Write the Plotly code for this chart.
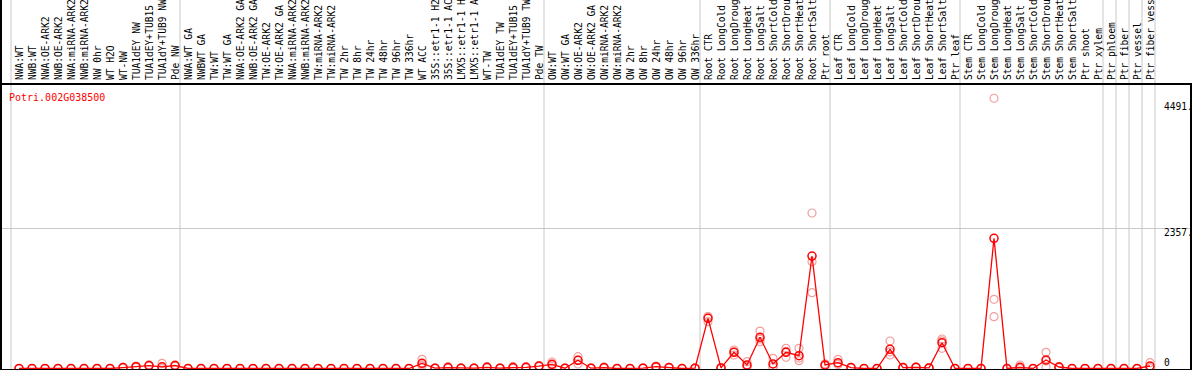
import plotly.graph_objects as go

categories = [
    "NWA:WT", "NWB:WT", "NWA:OE-ARK2", "NWB:OE-ARK2", "NWA:miRNA-ARK2", "NWB:miRNA-ARK2",
    "NW 0hr", "WT H2O", "WT-NW", "TUA1dEY NW", "TUA1dEY+TUB15", "TUA1dY+TUB9 NW", "Pde NW",
    "NWA:WT GA", "NWBWT GA", "TW:WT", "TW:WT GA", "NWA:OE-ARK2 GA", "NWB:OE-ARK2 GA",
    "TW:OE-ARK2", "TW:OE-ARK2 GA", "NWA:miRNA-ARK2", "NWB:miRNA-ARK2", "TW:miRNA-ARK2",
    "TW:miRNA-ARK2", "TW 2hr", "TW 8hr", "TW 24hr", "TW 48hr", "TW 96hr", "TW 336hr",
    "WT ACC", "35S::etr1-1 H2", "35S::etr1-1 AC", "LMX5::etr1-1 H", "LMX5::etr1-1 A",
    "WT-TW", "TUA1dEY TW", "TUA1dEY+TUB15", "TUA1dY+TUB9 TW", "Pde TW",
    "OW:WT", "OW:WT GA", "OW:OE-ARK2", "OW:OE-ARK2 GA", "OW:miRNA-ARK2", "OW:miRNA-ARK2",
    "OW 2hr", "OW 8hr", "OW 24hr", "OW 48hr", "OW 96hr", "OW 336hr",
    "Root CTR", "Root LongCold", "Root LongDroug", "Root LongHeat", "Root LongSalt",
    "Root ShortCold", "Root ShortDrou", "Root ShortHeat", "Root ShortSalt", "Ptr root",
    "Leaf CTR", "Leaf LongCold", "Leaf LongDroug", "Leaf LongHeat", "Leaf LongSalt",
    "Leaf ShortCold", "Leaf ShortDrou", "Leaf ShortHeat", "Leaf ShortSalt", "Ptr leaf",
    "Stem CTR", "Stem LongCold", "Stem LongDroug", "Stem LongHeat", "Stem LongSalt",
    "Stem ShortCold", "Stem ShortDrou", "Stem ShortHeat", "Stem ShortSalt", "Ptr shoot",
    "Ptr xylem", "Ptr phloem", "Ptr fiber", "Ptr vessel", "Ptr fiber vess",
]

mean_vals = [
    0, 0, 0, 0, 0, 0, 0, 0, 15, 30, 50, 29, 50,
    0, 0, 0, 0, 0, 0, 0, 0, 0, 0, 0, 0, 0, 0, 0, 0, 0, 0,
    87, 5, 15, 5, 5, 20, 5, 15, 20, 40,
    70, 5, 138, 5, 15, 0, 0, 5, 30, 15, 0, 5,
    844, 10, 272, 59, 525, 76, 272, 215, 1891, 59,
    98, 15, 0, 0, 323, 15, 20, 10, 434, 0,
    0, 0, 2189, 0, 20, 0, 143, 25, 0, 0, 0, 0, 0, 0, 42,
]

rep1 = [
    0, 0, 0, 0, 0, 0, 0, 0, 20, 40, 60, 87, 60,
    0, 0, 0, 0, 0, 0, 0, 0, 0, 0, 0, 0, 0, 0, 0, 0, 0, 0,
    155, 5, 30, 5, 5, 30, 5, 35, 30, 50,
    109, 5, 198, 5, 25, 0, 0, 5, 40, 20, 0, 5,
    871, 15, 311, 114, 630, 171, 340, 340, 2614, 80,
    155, 20, 0, 0, 462, 20, 25, 15, 496, 0,
    0, 0, 4543, 0, 59, 0, 272, 35, 0, 0, 0, 0, 0, 0, 98,
]

rep2 = [
    0, 0, 0, 0, 0, 0, 0, 0, 15, 30, 50, 0, 50,
    0, 0, 0, 0, 0, 0, 0, 0, 0, 0, 0, 0, 0, 0, 0, 0, 0, 0,
    60, 5, 10, 5, 5, 20, 5, 5, 20, 40,
    60, 5, 140, 5, 15, 0, 0, 5, 30, 15, 0, 5,
    874, 10, 277, 33, 494, 30, 288, 175, 1796, 50,
    70, 15, 0, 0, 280, 15, 20, 10, 466, 0,
    0, 0, 1163, 0, 0, 0, 127, 25, 0, 0, 0, 0, 0, 0, 15,
]

rep3 = [
    0, 0, 0, 0, 0, 0, 0, 0, 10, 20, 40, 0, 40,
    0, 0, 0, 0, 0, 0, 0, 0, 0, 0, 0, 0, 0, 0, 0, 0, 0, 0,
    45, 5, 5, 5, 5, 10, 5, 5, 10, 30,
    41, 5, 76, 5, 5, 0, 0, 5, 20, 10, 0, 5,
    787, 5, 227, 30, 451, 27, 188, 131, 1274, 47,
    69, 10, 0, 0, 227, 10, 15, 5, 340, 0,
    0, 0, 871, 0, 0, 0, 30, 15, 0, 0, 0, 0, 0, 0, 13,
]

group_bounds = [0, 13, 41, 53, 63, 73, 84, 85, 86, 87, 88]
y_labels = [4491, 2357, 0]
gene_id = "Potri.002G038500"

MONO = "DejaVu Sans Mono"
RED = "#ff0000"
PINK = "#f0a0a0"

x = list(range(len(categories)))

fig = go.Figure()
for reps in (rep1, rep2, rep3):
    fig.add_trace(go.Scatter(
        x=x, y=reps, mode="markers",
        marker=dict(symbol="circle-open", size=8, color=PINK, line=dict(width=1.2, color=PINK)),
        hoverinfo="skip", showlegend=False,
    ))
fig.add_trace(go.Scatter(
    x=x, y=mean_vals, mode="lines+markers",
    line=dict(color=RED, width=1.3),
    marker=dict(symbol="circle-open", size=8, color=RED, line=dict(width=1.5, color=RED)),
    showlegend=False,
))

# plot area geometry (pixels)
W, H = 1194, 370
ml, mr, mt, mb = 1, 4, 85, 1
pw = W - ml - mr
ph = H - mt - mb
px_per_cat = 13.0
x0 = -(19 - ml) / px_per_cat
x1 = x0 + pw / px_per_cat
y_zero_px = 368.5 - mt  # from top of plot area
units_per_px = 2357 / (368.5 - 228.3)
y_top = y_zero_px * units_per_px
y_bot = -(ph - y_zero_px) * units_per_px

shapes = []
for b in group_bounds:
    xb = b - 8 / px_per_cat
    shapes.append(dict(type="line", xref="x", yref="paper", x0=xb, x1=xb,
                       y0=0, y1=1 + mt / ph, line=dict(color="#c8c8c8", width=1), layer="below"))
# left border extending through label area
shapes.append(dict(type="line", xref="paper", yref="paper", x0=0, x1=0, y0=0, y1=1 + mt / ph,
                   line=dict(color="black", width=2)))

annotations = [dict(
    text=gene_id, xref="paper", yref="paper", x=(7 - ml) / pw, y=(H - mb - 97) / ph,
    xanchor="left", yanchor="middle", showarrow=False,
    font=dict(family=MONO, size=10, color=RED),
)]
shifts = {4491: -5, 2357: -4, 0: 6}
for v in y_labels:
    annotations.append(dict(
        text=(str(v) + ".") if v else "0", xref="paper", yref="y",
        x=(1162 - ml) / pw, y=v, xanchor="left", yanchor="middle", yshift=shifts[v],
        showarrow=False, font=dict(family=MONO, size=9.6, color="black"),
    ))

fig.update_layout(
    width=W, height=H,
    margin=dict(l=ml, r=mr, t=mt, b=mb, pad=0, autoexpand=False),
    paper_bgcolor="white", plot_bgcolor="white",
    shapes=shapes, annotations=annotations,
    xaxis=dict(
        range=[x0, x1], side="top", tickmode="array", tickvals=x, ticktext=categories,
        tickangle=-90, tickfont=dict(family=MONO, size=9.6, color="black"),
        ticks="", ticklabelshift=1, ticklabelstandoff=1, automargin=False,
        showgrid=False, zeroline=False,
        showline=True, mirror=True, linecolor="black", linewidth=2,
    ),
    yaxis=dict(
        range=[y_bot, y_top], tickmode="array", tickvals=[2357], showticklabels=False,
        ticks="", showgrid=True, gridcolor="#c8c8c8", gridwidth=1, zeroline=False,
        automargin=False,
        showline=True, mirror=True, linecolor="black", linewidth=2,
    ),
)

fig.write_html(
    "out.html",
    config={"displayModeBar": False},
    post_script="document.body.style.margin='0';document.body.style.overflow='hidden';",
)
